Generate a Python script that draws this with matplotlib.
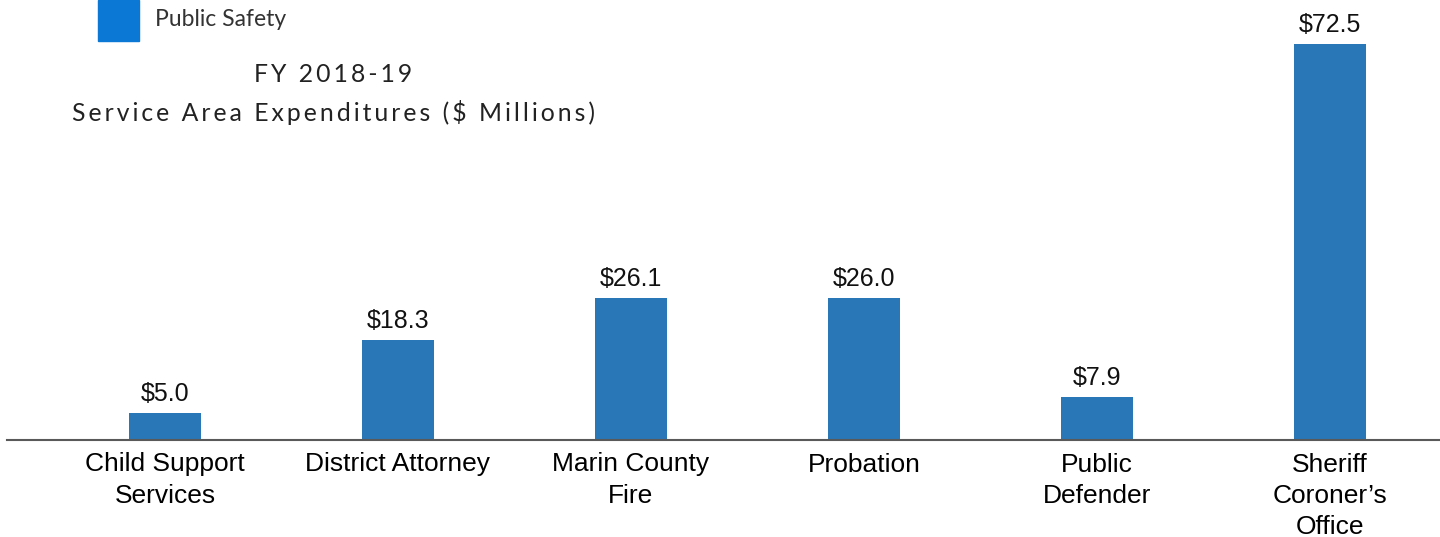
import matplotlib.pyplot as plt
from matplotlib.patches import Rectangle

departments = ["Child Support\nServices", "District Attorney", "Marin County\nFire",
               "Probation", "Public\nDefender", "Sheriff\nCoroner\u2019s\nOffice"]
expenditures = [5.0, 18.3, 26.1, 26.0, 7.9, 72.5]
legend_label = "Public Safety"
title_lines = ["FY 2018-19", "Service Area Expenditures ($ Millions)"]

bar_color = "#2a77b8"


def tracked(s):
    # spread letters out a bit, like the original title
    return "\u200a\u200a".join(s)


fig = plt.figure(figsize=(14.4, 5.37), dpi=100)
ax = fig.add_axes([0, 97 / 537, 1, 440 / 537])

x = range(len(departments))
ax.bar(x, expenditures, width=0.31, color=bar_color)
for xi, v in zip(x, expenditures):
    ax.annotate(f"${v:.1f}", (xi, v), xytext=(0, 5), textcoords="offset points",
                ha="center", va="bottom", fontsize=18, family="Liberation Sans",
                color="#111111")

ax.set_xlim(-0.708, 5.472)
ax.set_ylim(0, 80.6)
ax.set_xticks(list(x))
ax.set_xticklabels(departments, fontsize=19, family="Liberation Sans",
                   linespacing=1.38, va="top")
ax.tick_params(axis="x", length=0, pad=9)
ax.set_yticks([])
for s in ["top", "right", "left"]:
    ax.spines[s].set_visible(False)
ax.spines["bottom"].set_color("#595959")
ax.spines["bottom"].set_linewidth(1.5)
ax.spines["bottom"].set_bounds(-0.678, 5.472)

# legend
fig.patches.append(Rectangle((98 / 1440, 1 - 41 / 537), 41 / 1440, 41 / 537,
                             transform=fig.transFigure, color="#0a78d4"))
fig.text(155 / 1440, 1 - 20 / 537, legend_label, fontsize=16.5,
         family=["Lato", "DejaVu Sans"], color="#333333", va="center", ha="left")

# title
fig.text(333 / 1440, 1 - 75 / 537, tracked(title_lines[0]), fontsize=17.8,
         family=["Lato", "DejaVu Sans"],
         color="#222222", ha="center", va="center")
fig.text(333 / 1440, 1 - 113 / 537, tracked(title_lines[1]), fontsize=17.8,
         family=["Lato", "DejaVu Sans"],
         color="#222222", ha="center", va="center")

fig.savefig("out.png", dpi=100)
